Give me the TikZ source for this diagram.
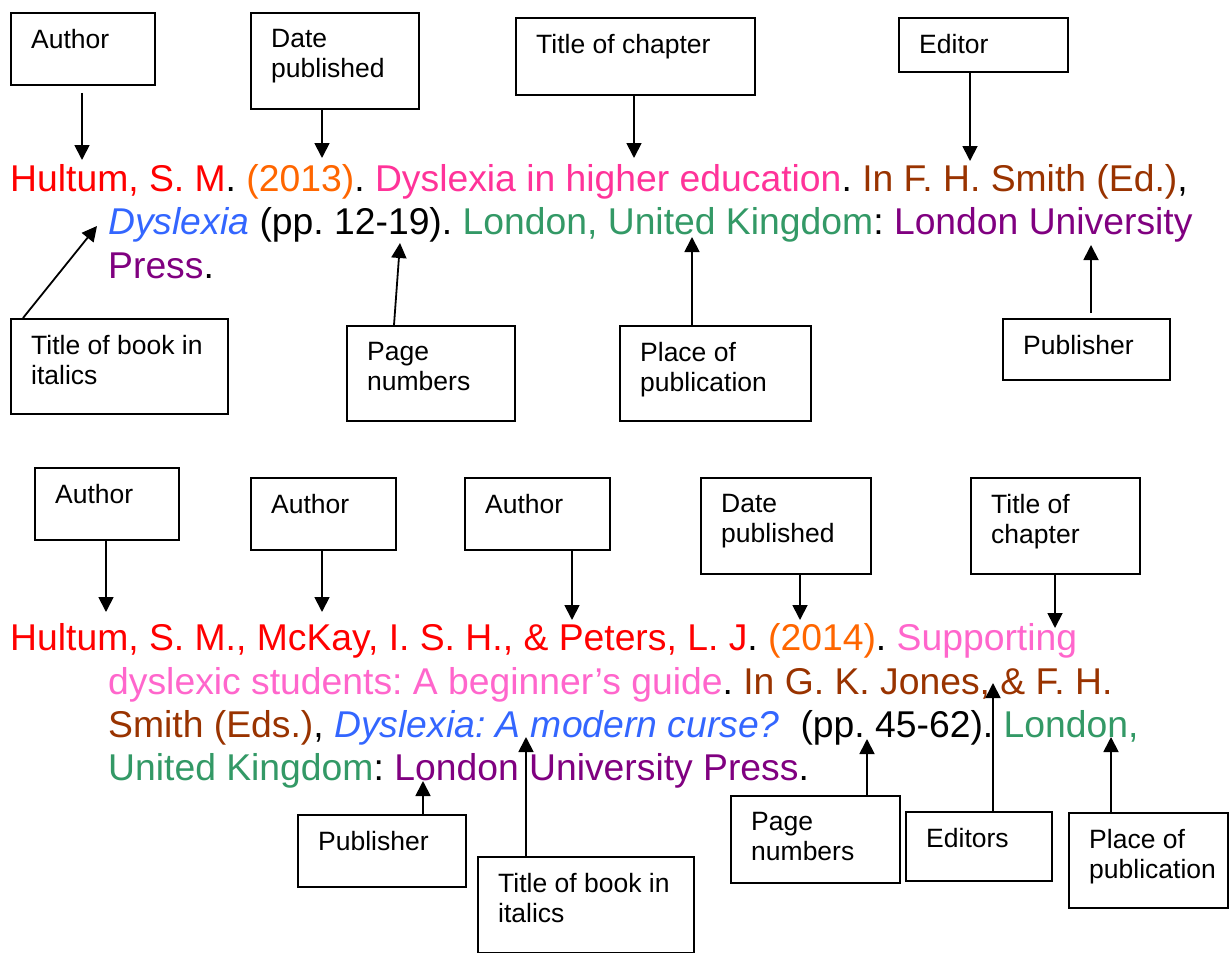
\documentclass[tikz,border=0pt]{standalone}
\usepackage{fontspec}
\setmainfont{Liberation Sans}
\usepackage{tikz}
\usepackage{xcolor}
\usetikzlibrary{arrows.meta}
\usetikzlibrary{positioning}
\definecolor{cauthor}{HTML}{FF0000}
\definecolor{cdate}{HTML}{FF6600}
\definecolor{ctitle}{HTML}{FF3399}
\definecolor{ctitleb}{HTML}{FF66CC}
\definecolor{ceditor}{HTML}{993300}
\definecolor{cbook}{HTML}{3366FF}
\definecolor{cplace}{HTML}{339966}
\definecolor{cpublisher}{HTML}{800080}
\frenchspacing
\tikzset{part box/.style={rectangle,draw,line width=1.8pt,anchor=north west,inner sep=0pt}}
\tikzset{part text/.style={anchor=north west,xshift=21pt,yshift=-17pt,align=left,inner sep=0pt,font=\fontsize{26.5}{30}\selectfont}}
\tikzset{ref line/.style={anchor=base west,inner sep=0pt,font=\fontsize{37.3}{43.5}\selectfont}}
\tikzset{part arrow/.style={line width=1.8pt,-{Triangle[length=15pt,width=15pt]}}}

\begin{document}
\begin{tikzpicture}[x=1pt,y=-1pt]
    \useasboundingbox (0,0) rectangle (1229,953);

    % first reference
    \node[ref line] (r_{1}) at (10,191) {\textcolor{cauthor}{Hultum, S. M}. \textcolor{cdate}{(2013)}. \textcolor{ctitle}{Dyslexia in higher education}. \textcolor{ceditor}{In F. H. Smith (Ed.)},};
    \node[ref line] (r_{2}) at (108,234.5) {\textcolor{cbook}{\itshape Dyslexia} (pp. 12-19). \textcolor{cplace}{London, United Kingdom}: \textcolor{cpublisher}{London University}};
    \node[ref line] (r_{3}) at (108,278) {\textcolor{cpublisher}{Press}.};

    \node[part box,minimum width=144,minimum height=72,label={[part text]north west:Author}] (b_{1}) at (10,12) {};
    \node[part box,minimum width=168,minimum height=96,label={[part text]north west:Date\\published}] (b_{2}) at (250,12) {};
    \node[part box,minimum width=239,minimum height=77,label={[part text]north west:Title of chapter}] (b_{3}) at (515,17) {};
    \node[part box,minimum width=169,minimum height=54,label={[part text]north west:Editor}] (b_{4}) at (898,17) {};
    \node[part box,minimum width=217,minimum height=95,label={[part text]north west:Title of book in\\italics}] (b_{5}) at (10,318) {};
    \node[part box,minimum width=168,minimum height=95,label={[part text]north west:Page\\numbers}] (b_{6}) at (346,325) {};
    \node[part box,minimum width=191,minimum height=95,label={[part text]north west:Place of\\publication}] (b_{7}) at (619,325) {};
    \node[part box,minimum width=167,minimum height=61,label={[part text]north west:Publisher}] (b_{8}) at (1002,318) {};

    \coordinate (p_{1}) at (82,160);
    \coordinate (p_{2}) at (322,158);
    \coordinate (p_{3}) at (634,158);
    \coordinate (p_{4}) at (970,161);
    \coordinate (p_{5}) at (97,226);
    \coordinate (p_{6}) at (400,243);
    \coordinate (p_{7}) at (692,237);
    \coordinate (p_{8}) at (1091,245);

    \draw[part arrow,shorten <=7pt] (p_{1} |- b_{1}.south) -- (p_{1});
    \draw[part arrow] (p_{2} |- b_{2}.south) -- (p_{2});
    \draw[part arrow] (p_{3} |- b_{3}.south) -- (p_{3});
    \draw[part arrow] (p_{4} |- b_{4}.south) -- (p_{4});
    \draw[part arrow] ([xshift=13pt]b_{5}.north west) -- (p_{5});
    \draw[part arrow] ([xshift=48pt]b_{6}.north west) -- (p_{6});
    \draw[part arrow] (p_{7} |- b_{7}.north) -- (p_{7});
    \draw[part arrow,shorten <=5pt] (p_{8} |- b_{8}.north) -- (p_{8});

    % second reference
    \node[ref line] (r_{4}) at (10,650) {\textcolor{cauthor}{Hultum, S. M., McKay, I. S. H., \& Peters, L. J}. \textcolor{cdate}{(2014)}. \textcolor{ctitleb}{Supporting}};
    \node[ref line] (r_{5}) at (108,694) {\textcolor{ctitleb}{dyslexic students: A beginner’s guide}. \textcolor{ceditor}{In G. K. Jones, \& F. H.}};
    \node[ref line] (r_{6}) at (108,737) {\textcolor{ceditor}{Smith (Eds.)}, \textcolor{cbook}{\itshape Dyslexia: A modern curse?}~ (pp. 45-62). \textcolor{cplace}{London,}};
    \node[ref line] (r_{7}) at (108,780) {\textcolor{cplace}{United Kingdom}: \textcolor{cpublisher}{London University Press}.};

    \node[part box,minimum width=144,minimum height=72,label={[part text]north west:Author}] (b_{9}) at (34,467) {};
    \node[part box,minimum width=145,minimum height=72,label={[part text]north west:Author}] (b_{10}) at (250,477) {};
    \node[part box,minimum width=145,minimum height=72,label={[part text]north west:Author}] (b_{11}) at (464,477) {};
    \node[part box,minimum width=170,minimum height=96,label={[part text]north west:Date\\published}] (b_{12}) at (700,477) {};
    \node[part box,minimum width=169,minimum height=96,label={[part text]north west:Title of\\chapter}] (b_{13}) at (970,477) {};
    \node[part box,minimum width=168,minimum height=72,label={[part text]north west:Publisher}] (b_{14}) at (297,814) {};
    \node[part box,minimum width=216,minimum height=96,label={[part text]north west:Title of book in\\italics}] (b_{15}) at (477,856) {};
    \node[part box,minimum width=169,minimum height=87,label={[part text]north west:Page\\numbers}] (b_{16}) at (730,795) {};
    \node[part box,minimum width=146,minimum height=69,label={[part text]north west:Editors}] (b_{17}) at (905,811) {};
    \node[part box,minimum width=159,minimum height=95,label={[part text]north west:Place of\\publication}] (b_{18}) at (1068,812) {};

    \coordinate (p_{9}) at (106,612);
    \coordinate (p_{10}) at (322,612);
    \coordinate (p_{11}) at (572,620);
    \coordinate (p_{12}) at (800,620);
    \coordinate (p_{13}) at (1055,628);
    \coordinate (p_{14}) at (423,781);
    \coordinate (p_{15}) at (526,737);
    \coordinate (p_{16}) at (867,739);
    \coordinate (p_{17}) at (993,683);
    \coordinate (p_{18}) at (1111,737);

    \draw[part arrow] (p_{9} |- b_{9}.south) -- (p_{9});
    \draw[part arrow] (p_{10} |- b_{10}.south) -- (p_{10});
    \draw[part arrow] (p_{11} |- b_{11}.south) -- (p_{11});
    \draw[part arrow] (p_{12} |- b_{12}.south) -- (p_{12});
    \draw[part arrow] (p_{13} |- b_{13}.south) -- (p_{13});
    \draw[part arrow] (p_{14} |- b_{14}.north) -- (p_{14});
    \draw[part arrow] (p_{15} |- b_{15}.north) -- (p_{15});
    \draw[part arrow] (p_{16} |- b_{16}.north) -- (p_{16});
    \draw[part arrow] (p_{17} |- b_{17}.north) -- (p_{17});
    \draw[part arrow] (p_{18} |- b_{18}.north) -- (p_{18});
\end{tikzpicture}
\end{document}
